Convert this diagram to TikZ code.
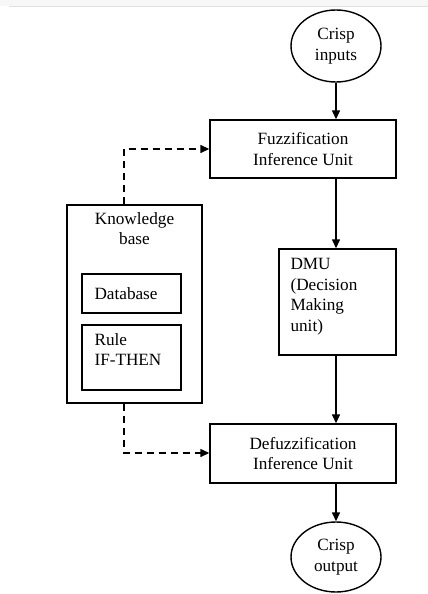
\documentclass[tikz,border=0pt]{standalone}
\usepackage{fontspec}
\setmainfont{Liberation Serif}
\usetikzlibrary{shapes.geometric,arrows.meta}
\begin{document}
\begin{tikzpicture}[x=1pt,y=-1pt,
  every node/.style={font=\fontsize{17.2}{20.5}\selectfont},
  box/.style={draw,line width=1.4pt,rectangle,inner sep=0pt},
  oval/.style={draw,line width=1.4pt,ellipse,inner sep=0pt,minimum width=90pt,minimum height=72pt,align=center},
  arr/.style={line width=1.4pt,-{Triangle[length=9pt,width=8pt]}},
  darr/.style={line width=1.4pt,dash pattern=on 7pt off 5pt,-{Triangle[length=9pt,width=8pt]}}]
\useasboundingbox (0,0) rectangle (428,594);
\fill[black!3] (0,0) rectangle (428,6);
\draw[black!12,line width=0.8pt] (9,6.5) -- (428,6.5);
% nodes
\node[oval] (in) at (336,46) {Crisp\\inputs};
\node[box,minimum width=186pt,minimum height=58pt,align=center] (fz) at (303,149) {Fuzzification\\Inference Unit};
\node[box,minimum width=117pt,minimum height=106pt] (dmu) at (337.5,302) {};
\node[align=left,anchor=north west] (dmut) at (287,255) {DMU\\(Decision\\Making\\unit)};
\node[box,minimum width=186pt,minimum height=59pt,align=center] (dz) at (303,453.5) {Defuzzification\\Inference Unit};
\node[oval,minimum height=70pt] (out) at (336,557) {Crisp\\output};
\node[box,minimum width=135pt,minimum height=198pt] (kb) at (134.5,304) {};
\node[align=center,anchor=north] (kbt) at (134.5,209) {Knowledge\\base};
\node[box,minimum width=99pt,minimum height=39pt] (db) at (131.5,293.5) {};
\node[anchor=west] (dbt) at (91,293.5) {Database};
\node[box,minimum width=99pt,minimum height=65pt] (rule) at (131.5,357.5) {};
\node[align=left,anchor=north west] (rulet) at (91,330) {Rule\\IF-THEN};
% connectors
\draw[arr] (in.south) -- (fz.north -| in.south);
\draw[arr] (fz.south -| in.south) -- (dmu.north -| in.south);
\draw[arr] (dmu.south -| in.south) -- (dz.north -| in.south);
\draw[arr] (dz.south -| in.south) -- (out.north);
\coordinate (k1) at (124,149);
\coordinate (k2) at (124,453);
\draw[darr] (kb.north -| k1) -- (k1) -- (fz.west);
\draw[darr] (kb.south -| k2) -- (k2) -- (k2 -| dz.west);
\end{tikzpicture}
\end{document}
